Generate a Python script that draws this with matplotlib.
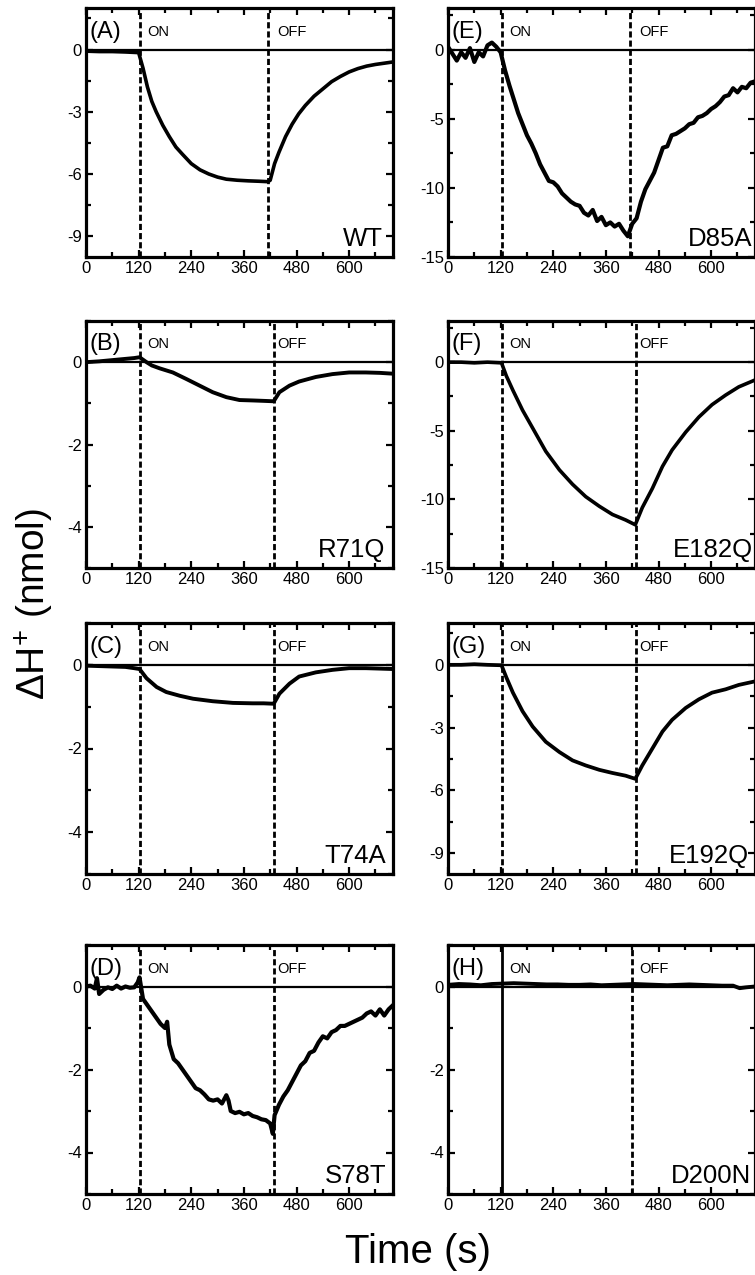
import matplotlib
matplotlib.use("Agg")
import matplotlib.pyplot as plt
from matplotlib.ticker import MultipleLocator

plt.rcParams['font.family'] = ['Liberation Sans', 'DejaVu Sans']
plt.rcParams['mathtext.fontset'] = 'custom'
plt.rcParams['mathtext.rm'] = 'Liberation Sans'
plt.rcParams['mathtext.it'] = 'Liberation Sans:italic'
plt.rcParams['mathtext.bf'] = 'Liberation Sans:bold'
plt.rcParams['axes.unicode_minus'] = False

# ---------------- data (time in s, proton change in nmol) ----------------
t_A = [0, 30, 60, 90, 120, 130, 140, 150, 160, 175, 190, 205, 220, 240, 260, 280, 300,
       320, 345, 370, 395, 415, 420, 430, 440, 455, 470, 485, 500, 520, 540, 560, 580,
       600, 620, 640, 660, 700]
v_A = [-0.08, -0.1, -0.1, -0.12, -0.15, -0.9, -1.8, -2.5, -3.0, -3.65, -4.2, -4.7, -5.05,
       -5.5, -5.8, -6.0, -6.15, -6.25, -6.3, -6.33, -6.35, -6.37, -6.3, -5.5, -4.95, -4.2,
       -3.6, -3.1, -2.7, -2.25, -1.9, -1.55, -1.3, -1.08, -0.92, -0.8, -0.72, -0.6]

t_B = [0, 30, 60, 90, 110, 122, 138, 150, 168, 198, 229, 259, 289, 320, 350, 380, 405,
       428, 441, 464, 486, 524, 562, 600, 638, 670, 700]
v_B = [0.0, 0.02, 0.05, 0.08, 0.1, 0.12, 0.0, -0.08, -0.15, -0.25, -0.41, -0.57, -0.73,
       -0.85, -0.92, -0.93, -0.94, -0.95, -0.73, -0.57, -0.47, -0.36, -0.29, -0.25, -0.25,
       -0.26, -0.28]

t_C = [0, 30, 60, 90, 110, 122, 138, 161, 183, 214, 244, 289, 335, 380, 405, 428, 441,
       464, 486, 524, 562, 600, 638, 670, 700]
v_C = [-0.02, -0.03, -0.04, -0.05, -0.08, -0.1, -0.32, -0.53, -0.65, -0.74, -0.81, -0.87,
       -0.91, -0.92, -0.92, -0.93, -0.69, -0.45, -0.28, -0.18, -0.12, -0.08, -0.08, -0.09,
       -0.1]

t_D = [0, 10, 20, 25, 30, 40, 50, 60, 70, 80, 90, 100, 110, 118, 122, 130, 140, 150, 160,
       170, 180, 185, 190, 200, 210, 220, 230, 240, 250, 260, 270, 280, 290, 300, 310, 320,
       325, 330, 340, 350, 360, 370, 380, 390, 400, 410, 420, 426, 430, 440, 450, 460, 470,
       480, 490, 500, 510, 520, 530, 540, 550, 560, 570, 580, 590, 600, 610, 620, 630, 640,
       650, 660, 670, 680, 690, 700]
v_D = [0.0, 0.02, -0.05, 0.2, -0.18, -0.08, -0.02, -0.06, 0.02, -0.05, 0.0, -0.03, -0.02,
       0.1, 0.22, -0.3, -0.45, -0.6, -0.75, -0.9, -1.0, -0.85, -1.4, -1.75, -1.85, -2.0,
       -2.15, -2.3, -2.45, -2.5, -2.6, -2.72, -2.75, -2.72, -2.82, -2.62, -2.75, -3.0, -3.05,
       -3.02, -3.08, -3.05, -3.12, -3.15, -3.2, -3.22, -3.3, -3.55, -3.1, -2.85, -2.65, -2.5,
       -2.3, -2.1, -1.9, -1.8, -1.6, -1.55, -1.35, -1.2, -1.25, -1.1, -1.05, -0.95, -0.95,
       -0.9, -0.85, -0.8, -0.75, -0.65, -0.6, -0.7, -0.55, -0.7, -0.55, -0.45]

t_E = [0, 10, 20, 30, 40, 50, 60, 70, 80, 90, 100, 110, 120, 130, 140, 150, 160, 170, 180,
       190, 200, 210, 220, 230, 240, 250, 260, 270, 280, 290, 300, 310, 320, 330, 340, 350,
       360, 370, 380, 390, 400, 410, 420, 430, 440, 450, 460, 470, 480, 490, 500, 510, 520,
       530, 540, 550, 560, 570, 580, 590, 600, 610, 620, 630, 640, 650, 660, 670, 680, 690,
       700]
v_E = [0.2, -0.3, -0.8, -0.2, -0.6, 0.1, -0.9, -0.2, -0.5, 0.3, 0.5, 0.2, -0.2, -1.5, -2.6,
       -3.6, -4.6, -5.4, -6.2, -6.8, -7.5, -8.3, -8.9, -9.5, -9.6, -9.9, -10.4, -10.7, -11.0,
       -11.2, -11.3, -11.8, -12.0, -11.6, -12.4, -12.1, -12.7, -12.5, -12.8, -12.6, -13.1,
       -13.5, -12.6, -12.2, -11.0, -10.1, -9.5, -8.9, -8.0, -7.1, -7.0, -6.2, -6.1, -5.9,
       -5.7, -5.4, -5.3, -4.9, -4.8, -4.6, -4.3, -4.1, -3.8, -3.4, -3.3, -2.8, -3.1, -2.7,
       -2.8, -2.4, -2.3]

t_F = [0, 30, 60, 90, 122, 133, 148, 170, 193, 223, 254, 284, 314, 345, 375, 405, 427, 443,
       466, 489, 511, 542, 572, 602, 633, 663, 700]
v_F = [0.0, 0.0, -0.05, 0.0, -0.05, -1.0, -2.05, -3.5, -4.8, -6.5, -7.85, -8.9, -9.8, -10.5,
       -11.1, -11.5, -11.85, -10.6, -9.2, -7.6, -6.4, -5.1, -4.0, -3.1, -2.4, -1.8, -1.3]

t_G = [0, 30, 60, 90, 122, 133, 148, 170, 193, 223, 254, 284, 314, 345, 375, 405, 427, 443,
       466, 489, 511, 542, 572, 602, 633, 663, 700]
v_G = [0.0, 0.0, 0.03, 0.0, -0.02, -0.6, -1.33, -2.22, -2.95, -3.68, -4.17, -4.57, -4.81,
       -5.02, -5.17, -5.3, -5.45, -4.81, -4.0, -3.19, -2.63, -2.06, -1.65, -1.33, -1.17,
       -0.96, -0.79]

t_H = [0, 25, 50, 75, 100, 125, 150, 175, 200, 225, 250, 275, 300, 325, 350, 375, 400, 425,
       450, 475, 500, 525, 550, 575, 600, 625, 650, 665, 680, 700]
v_H = [0.04, 0.06, 0.05, 0.03, 0.06, 0.07, 0.08, 0.07, 0.06, 0.05, 0.05, 0.04, 0.04, 0.05,
       0.03, 0.04, 0.05, 0.06, 0.05, 0.04, 0.03, 0.04, 0.05, 0.04, 0.03, 0.02, 0.02, -0.04,
       -0.02, 0.0]

panel_letters = ['(A)', '(B)', '(C)', '(D)', '(E)', '(F)', '(G)', '(H)']
mutants = ['WT', 'R71Q', 'T74A', 'S78T', 'D85A', 'E182Q', 'E192Q', 'D200N']
on_times = [122, 122, 122, 122, 122, 122, 122, 122]
off_times = [415, 428, 428, 428, 415, 428, 428, 420]
y_limits = [(-10, 2), (-5, 1), (-5, 1), (-5, 1), (-15, 3), (-15, 3), (-10, 2), (-5, 1)]
y_major = [3, 2, 2, 2, 5, 5, 3, 2]
x_ticks = [0, 120, 240, 360, 480, 600]

traces = [(t_A, v_A), (t_B, v_B), (t_C, v_C), (t_D, v_D),
          (t_E, v_E), (t_F, v_F), (t_G, v_G), (t_H, v_H)]

# ---------------- layout ----------------
W, H = 755, 1275
fig = plt.figure(figsize=(W / 100, H / 100), dpi=100)

col_left = [86, 448]
col_w = 307
rows = [(8, 257), (321, 568), (623, 874), (945, 1194)]
label_right = [0.967, 0.974, 0.977, 0.98, 0.993, 0.995, 0.982, 0.987]
line_w = [2.6, 2.8, 2.8, 3.0, 3.0, 2.6, 2.7, 2.8]

for i in range(8):
    col = i // 4
    row = i % 4
    top, bot = rows[row]
    ax = fig.add_axes([col_left[col] / W, 1 - bot / H, col_w / W, (bot - top) / H])
    t, v = traces[i]
    ax.plot(t, v, color='black', lw=line_w[i], solid_joinstyle='round')
    ax.axhline(0, color='black', lw=1.6, zorder=1)
    if i == 7:
        ax.axvline(on_times[i], color='black', lw=2.0)
    else:
        ax.axvline(on_times[i], color='black', lw=2.0, ls=(0, (2.2, 1.1)))
    ax.axvline(off_times[i], color='black', lw=2.0, ls=(0, (2.2, 1.1)))
    ax.set_xlim(0, 700)
    ax.set_ylim(*y_limits[i])
    ax.set_xticks(x_ticks)
    ax.xaxis.set_minor_locator(MultipleLocator(60))
    ax.yaxis.set_major_locator(MultipleLocator(y_major[i]))
    ax.yaxis.set_minor_locator(MultipleLocator(y_major[i] / 2))
    ax.tick_params(which='both', direction='in', top=True, right=True,
                   labelsize=12, width=1.6, pad=3)
    ax.tick_params(which='major', length=5)
    ax.tick_params(which='minor', length=3.5)
    for s in ax.spines.values():
        s.set_linewidth(2.3)
    ax.text(0.012, 0.905, panel_letters[i], transform=ax.transAxes, fontsize=17,
            ha='left', va='center')
    ax.text(140, 0.905, 'ON', transform=ax.get_xaxis_transform(), fontsize=10.5,
            ha='left', va='center')
    ax.text(435, 0.905, 'OFF', transform=ax.get_xaxis_transform(), fontsize=10.5,
            ha='left', va='center')
    ax.text(label_right[i], 0.045, mutants[i], transform=ax.transAxes, fontsize=18.5,
            ha='right', va='baseline')

fig.text(34 / W, 1 - 604 / H, r'ΔH$^{+}$ (nmol)', rotation=90, fontsize=28,
         ha='center', va='center')
fig.text(418 / W, 1 - 1263 / H, 'Time (s)', fontsize=29, ha='center', va='baseline')

fig.savefig('out.png', dpi=100)
